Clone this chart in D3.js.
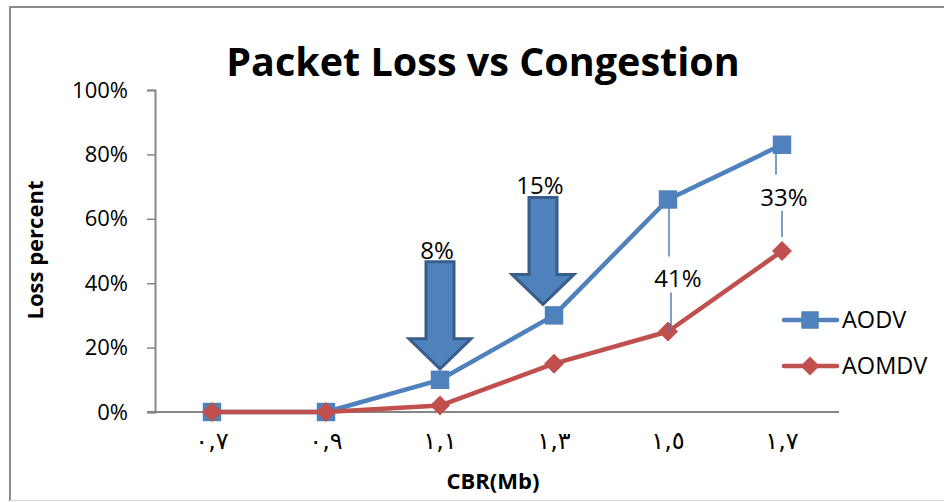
<!DOCTYPE html>
<html>
<head>
<meta charset="utf-8">
<script src="https://cdn.jsdelivr.net/npm/d3@7"></script>
<style>
  html, body { margin: 0; padding: 0; background: #fff; }
  svg { display: block; }
</style>
</head>
<body>
<svg id="chart" width="944" height="502"></svg>
<script>
// Offered load (CBR, Mb) with Arabic-Indic digits
const categories = ["٠,٧", "٠,٩", "١,١", "١,٣", "١,٥", "١,٧"];
// Packet loss in percent per protocol
const aodv  = [0, 0, 10, 30, 66, 83];
const aomdv = [0, 0, 2, 15, 25, 50];
const yTicks = [0, 20, 40, 60, 80, 100];
const seriesNames = ["AODV", "AOMDV"];

const BLUE = "#4F81BD", BLUE_DARK = "#385D8A", RED = "#C0504D";
const FONT = "'Open Sans', Lato, sans-serif";

const svg = d3.select("#chart");

// chart frame
svg.append("path")
  .attr("d", "M10,501 V7 H944")
  .attr("fill", "none").attr("stroke", "#8c8c8c").attr("stroke-width", 2);
svg.append("line")
  .attr("x1", 10).attr("x2", 944).attr("y1", 500.5).attr("y2", 500.5)
  .attr("stroke", "#d9d9d9").attr("stroke-width", 1);

const x = d3.scaleBand().domain(categories).range([155, 839]).padding(0);
const y = d3.scaleLinear().domain([0, 100]).range([412, 90]);
const cx = c => x(c) + x.bandwidth() / 2;

// title
svg.append("text")
  .attr("x", 483).attr("y", 76)
  .attr("text-anchor", "middle")
  .style("font-family", FONT).style("font-weight", 700).style("font-size", "39.5px")
  .text("Packet Loss vs Congestion");

// y axis
const yAxis = d3.axisLeft(y).tickValues(yTicks).tickSize(8).tickPadding(19)
  .tickFormat(d => d + "%");
const gy = svg.append("g").attr("transform", "translate(155,0)").call(yAxis);
gy.select(".domain").attr("stroke", "#868686").attr("stroke-width", 2);
gy.selectAll(".tick line").attr("stroke", "#868686").attr("stroke-width", 1.5);
gy.selectAll(".tick text")
  .style("font-family", FONT).style("font-size", "22px").attr("fill", "#000");

// x axis
const xAxis = d3.axisBottom(x).tickSize(0).tickPadding(20);
const gx = svg.append("g").attr("transform", "translate(0,412)").call(xAxis);
gx.select(".domain").attr("stroke", "#868686").attr("stroke-width", 2)
  .attr("d", "M147,0H839");
gx.selectAll(".tick text")
  .style("font-family", "'DejaVu Sans', sans-serif").style("font-size", "24px")
  .attr("fill", "#000").attr("direction", "ltr");

// axis titles
svg.append("text")
  .attr("transform", "translate(43,250) rotate(-90)")
  .attr("text-anchor", "middle")
  .style("font-family", FONT).style("font-weight", 700).style("font-size", "22px")
  .text("Loss percent");
svg.append("text")
  .attr("x", 493).attr("y", 489)
  .attr("text-anchor", "middle")
  .style("font-family", FONT).style("font-weight", 700).style("font-size", "22px")
  .text("CBR(Mb)");

// series: square markers for AODV, wide diamonds for AOMDV
const square = d3.symbol().type(d3.symbolSquare);
const series = [
  { name: seriesNames[0], values: aodv,  color: BLUE, rot: 0,  size: 340 },
  { name: seriesNames[1], values: aomdv, color: RED,  rot: 45, size: 200 }
];
const line = d3.line().x((d, i) => cx(categories[i])).y(d => y(d));

series.forEach(s => {
  svg.append("path")
    .datum(s.values)
    .attr("d", line)
    .attr("fill", "none").attr("stroke", s.color).attr("stroke-width", 4.5)
    .attr("stroke-linejoin", "round").attr("stroke-linecap", "round");
  svg.append("g").selectAll("path")
    .data(s.values)
    .join("path")
    .attr("transform", (d, i) => `translate(${cx(categories[i])},${y(d)}) rotate(${s.rot})`)
    .attr("d", square.size(s.size)())
    .attr("fill", s.color);
});

// legend
series.forEach((s, k) => {
  const ly = 320 + k * 46;
  const g = svg.append("g");
  g.append("line").attr("x1", 784).attr("x2", 837).attr("y1", ly).attr("y2", ly)
    .attr("stroke", s.color).attr("stroke-width", 4.5).attr("stroke-linecap", "round");
  g.append("path").attr("transform", `translate(810,${ly}) rotate(${s.rot})`)
    .attr("d", square.size(s.size * 0.9)()).attr("fill", s.color);
  g.append("text").attr("x", 842).attr("y", ly + 8)
    .style("font-family", FONT).style("font-size", "23.5px").text(s.name);
});

// gap between the two protocols
const gap = i => aodv[i] - aomdv[i];
const labelStyle = t => t.style("font-family", FONT).style("font-size", "24px")
  .attr("text-anchor", "middle").attr("fill", "#000");

// block arrows pointing at the AODV points
const arrows = [{ i: 2, dx: 0 }, { i: 3, dx: -11 }];
arrows.forEach(a => {
  const tx = cx(categories[a.i]) + a.dx;
  const ty = y(aodv[a.i]) - 11;
  const sw = 14, hw = 31, hh = 30, len = 107;
  const p = d3.path();
  p.moveTo(tx, ty);
  p.lineTo(tx - hw, ty - hh);
  p.lineTo(tx - sw, ty - hh);
  p.lineTo(tx - sw, ty - len);
  p.lineTo(tx + sw, ty - len);
  p.lineTo(tx + sw, ty - hh);
  p.lineTo(tx + hw, ty - hh);
  p.closePath();
  svg.append("path").attr("d", p.toString())
    .attr("fill", BLUE).attr("stroke", BLUE_DARK).attr("stroke-width", 3)
    .attr("stroke-linejoin", "miter");
  svg.append("text").attr("x", tx - 3).attr("y", ty - len - 3)
    .call(labelStyle).text(gap(a.i) + "%");
});

// callouts spanning the gap between the two curves
const callouts = [
  { i: 4, dx: 10, dy: 13, l1: 1, l2: 3 },
  { i: 5, dx: 2, dy: -1, l1: -6, l2: 0 }
];
callouts.forEach(c => {
  const px = cx(categories[c.i]);
  const yTop = y(aodv[c.i]), yBot = y(aomdv[c.i]);
  const my = (yTop + yBot) / 2 + c.dy;
  svg.append("line").attr("x1", px + c.l1).attr("x2", px + c.l1)
    .attr("y1", yTop + 1).attr("y2", my - 22)
    .attr("stroke", BLUE).attr("stroke-width", 1.5);
  svg.append("line").attr("x1", px + c.l2).attr("x2", px + c.l2)
    .attr("y1", my + 14).attr("y2", yBot - 14 + (c.i === 4 ? 15 : 0))
    .attr("stroke", BLUE).attr("stroke-width", 1.5);
  svg.append("text").attr("x", px + c.dx).attr("y", my + 9)
    .call(labelStyle).text(gap(c.i) + "%");
});
</script>
</body>
</html>
